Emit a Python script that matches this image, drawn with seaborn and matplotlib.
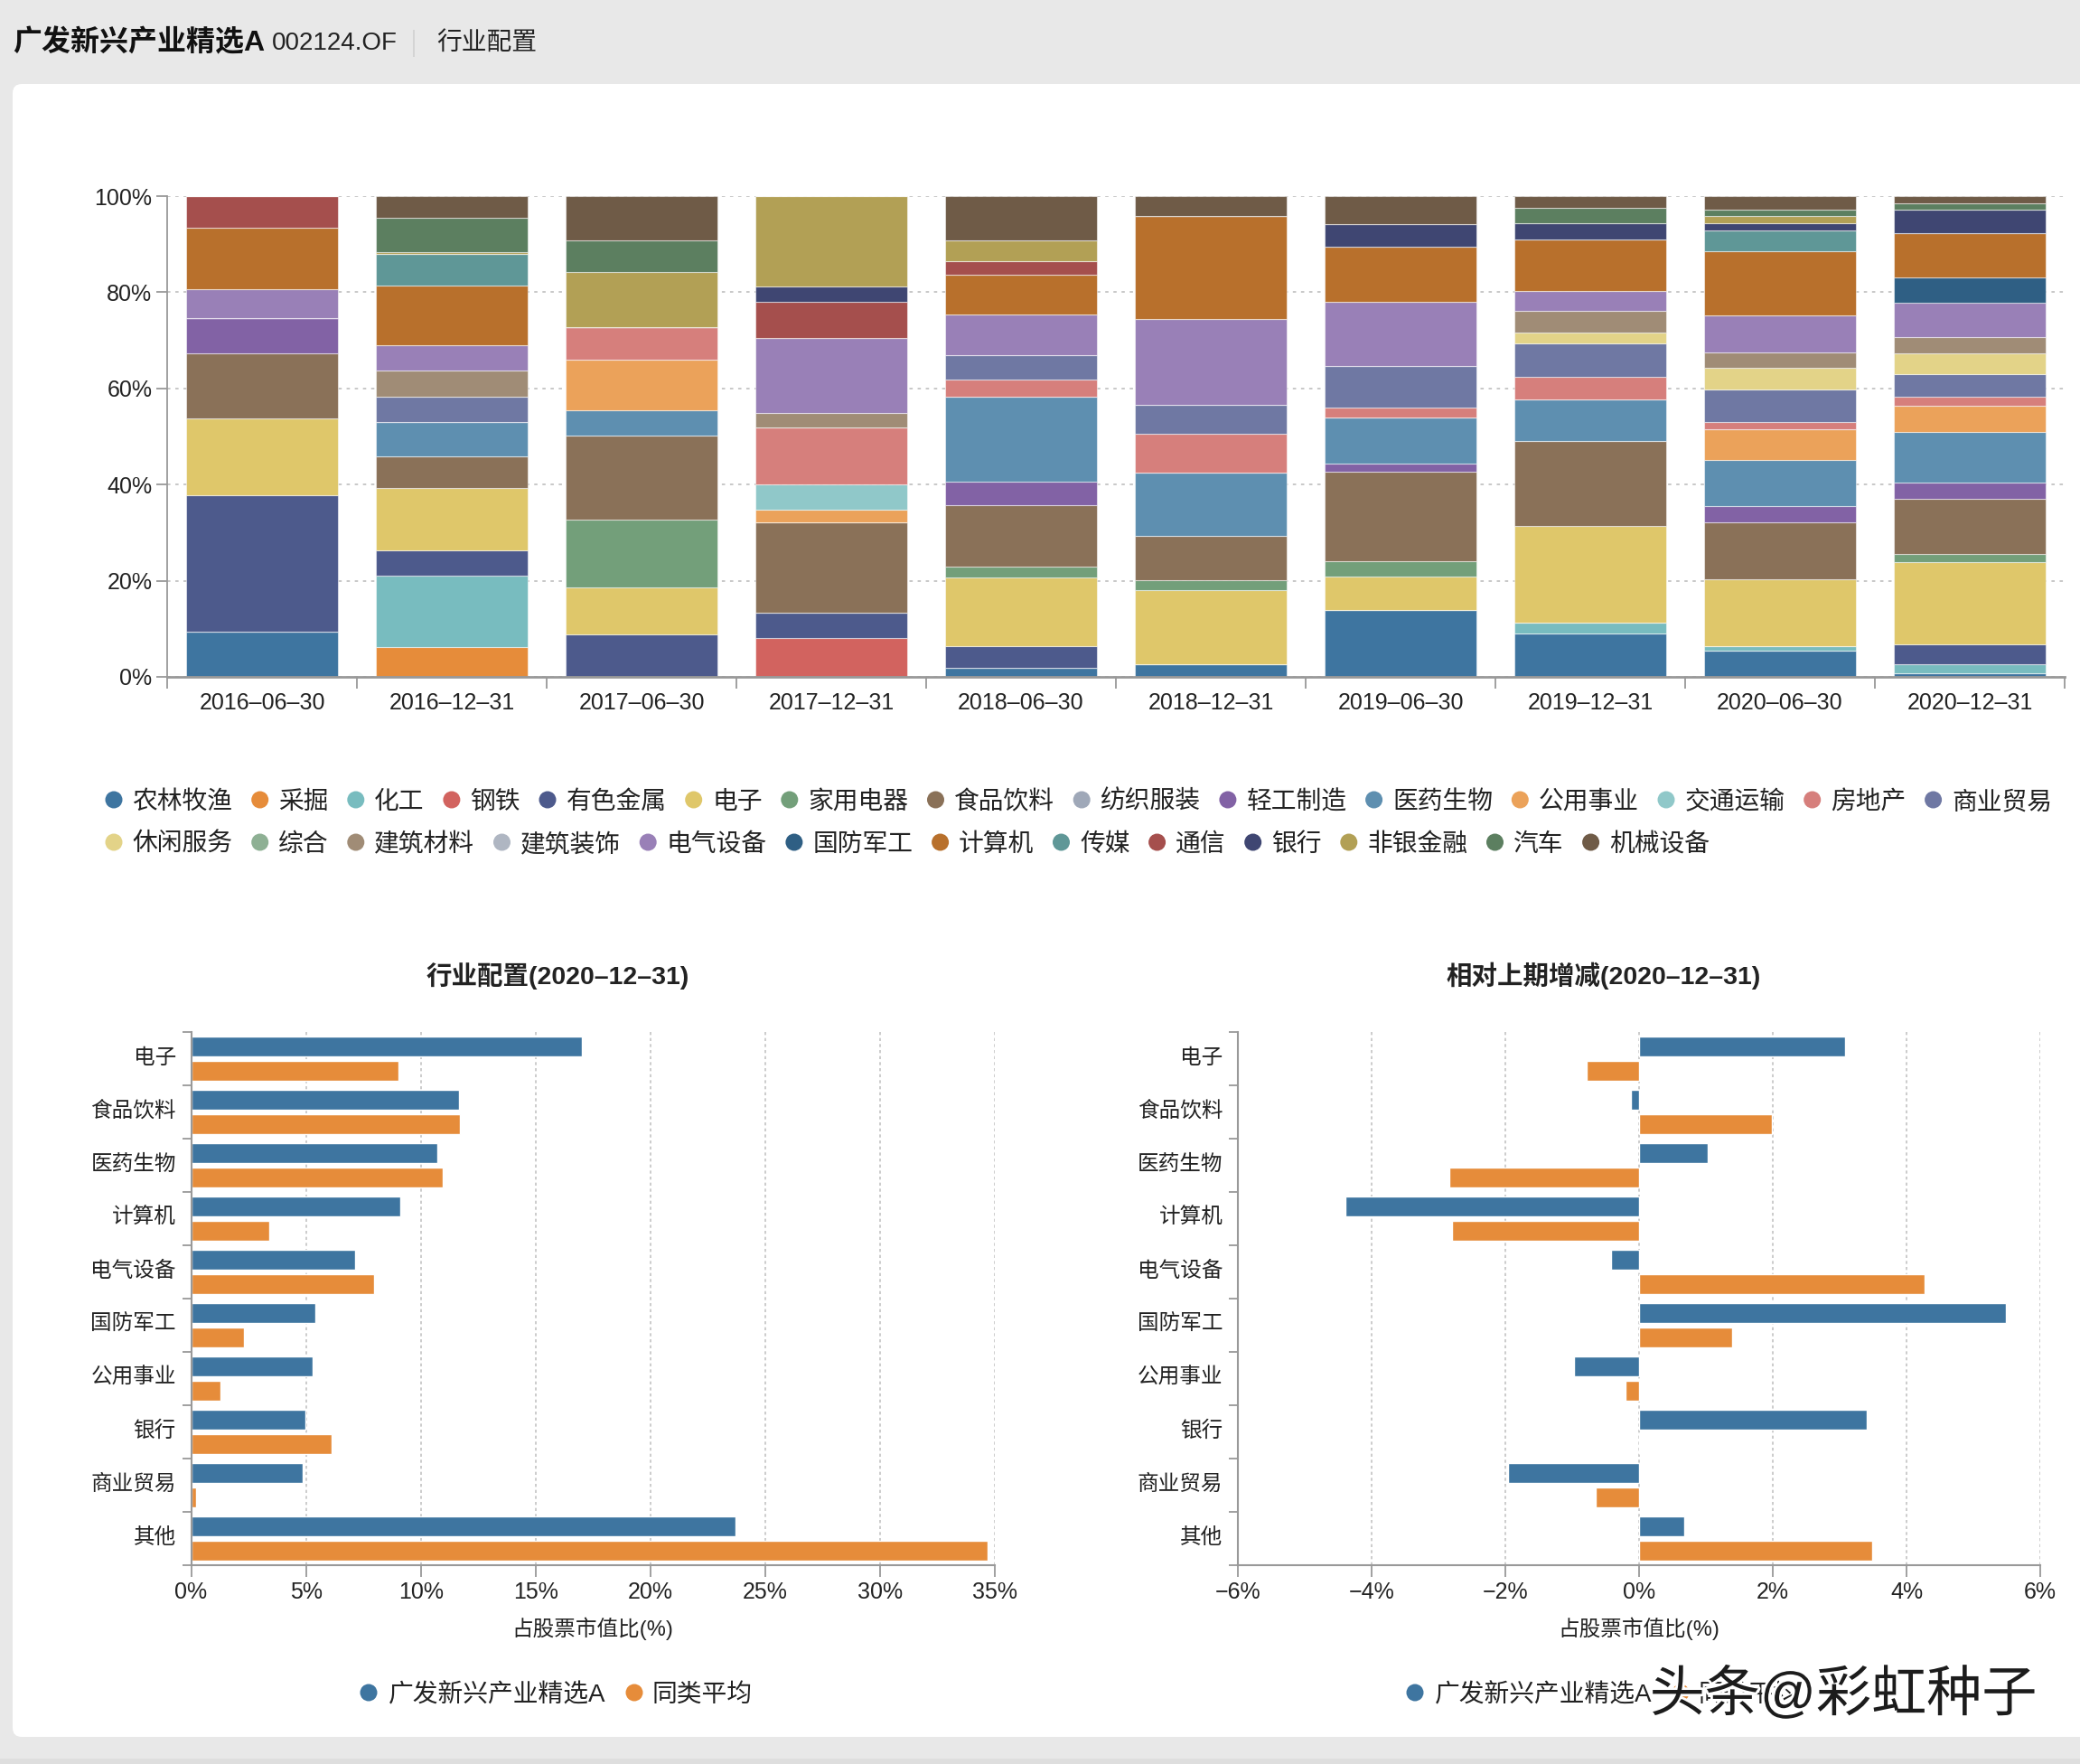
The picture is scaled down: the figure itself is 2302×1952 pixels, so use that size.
import matplotlib
matplotlib.use('Agg')

import matplotlib.pyplot as plt
import matplotlib.patheffects as pe
from matplotlib.patches import Circle, FancyBboxPatch, Rectangle
from matplotlib.transforms import IdentityTransform, ScaledTranslation
import pandas as pd
import seaborn as sns

W, H = 2302, 1952

dates = ["2016–06–30", "2016–12–31", "2017–06–30", "2017–12–31", "2018–06–30",
         "2018–12–31", "2019–06–30", "2019–12–31", "2020–06–30", "2020–12–31"]

industries = ["农林牧渔", "采掘", "化工", "钢铁", "有色金属", "电子", "家用电器", "食品饮料", "纺织服装", "轻工制造",
              "医药生物", "公用事业", "交通运输", "房地产", "商业贸易", "休闲服务", "综合", "建筑材料", "建筑装饰", "电气设备",
              "国防军工", "计算机", "传媒", "通信", "银行", "非银金融", "汽车", "机械设备"]
colors = ["#3e75a0", "#e68c3a", "#78bcbf", "#d2635f", "#4d5a8c", "#dfc76a", "#739f7a", "#8a7158", "#9fa8b8", "#8262a5",
          "#5e8fb0", "#eba25a", "#90c8c9", "#d67f7c", "#6f78a3", "#e3d388", "#8eb094", "#a08c76", "#afb6c2", "#9980b7",
          "#2f5f84", "#b8702c", "#5f9797", "#a54f4d", "#3f4672", "#b2a055", "#5c7f60", "#6f5b47"]

# 每期的行业占比, 从图上读的
bar_2016_06 = [("农林牧渔", 9.35), ("有色金属", 28.35), ("电子", 16.05), ("食品饮料", 13.6), ("轻工制造", 7.2),
               ("电气设备", 6.1), ("计算机", 12.75), ("通信", 6.6)]
bar_2016_12 = [("采掘", 6.25), ("化工", 14.75), ("有色金属", 5.4), ("电子", 12.95), ("食品饮料", 6.55), ("医药生物", 7.1),
               ("商业贸易", 5.25), ("建筑材料", 5.55), ("电气设备", 5.25), ("计算机", 12.3), ("传媒", 6.6), ("非银金融", 0.45),
               ("汽车", 7.1), ("机械设备", 4.5)]
bar_2017_06 = [("有色金属", 8.8), ("电子", 9.9), ("家用电器", 14.0), ("食品饮料", 17.55), ("医药生物", 5.25),
               ("公用事业", 10.4), ("房地产", 6.85), ("非银金融", 11.4), ("汽车", 6.6), ("机械设备", 9.25)]
bar_2017_12 = [("钢铁", 8.1), ("有色金属", 5.25), ("食品饮料", 18.8), ("公用事业", 2.6), ("交通运输", 5.3), ("房地产", 11.9),
               ("建筑材料", 3.0), ("电气设备", 15.6), ("通信", 7.5), ("银行", 3.1), ("非银金融", 18.85)]
bar_2018_06 = [("农林牧渔", 1.95), ("有色金属", 4.5), ("电子", 14.25), ("家用电器", 2.15), ("食品饮料", 12.9),
               ("轻工制造", 4.9), ("医药生物", 17.55), ("房地产", 3.65), ("商业贸易", 5.1), ("电气设备", 8.35),
               ("计算机", 8.35), ("通信", 2.75), ("非银金融", 4.4), ("机械设备", 9.2)]
bar_2018_12 = [("农林牧渔", 2.65), ("电子", 15.45), ("家用电器", 1.95), ("食品饮料", 9.35), ("医药生物", 13.1),
               ("房地产", 8.05), ("商业贸易", 6.05), ("电气设备", 17.75), ("计算机", 21.55), ("机械设备", 4.1)]
bar_2019_06 = [("农林牧渔", 13.9), ("电子", 6.9), ("家用电器", 3.3), ("食品饮料", 18.5), ("轻工制造", 1.85),
               ("医药生物", 9.5), ("房地产", 2.1), ("商业贸易", 8.65), ("电气设备", 13.3), ("计算机", 11.4), ("银行", 4.75),
               ("机械设备", 5.85)]
bar_2019_12 = [("农林牧渔", 9.0), ("化工", 2.3), ("电子", 20.0), ("食品饮料", 17.7), ("医药生物", 8.8), ("房地产", 4.7),
               ("商业贸易", 6.9), ("休闲服务", 2.2), ("建筑材料", 4.45), ("电气设备", 4.25), ("计算机", 10.65), ("银行", 3.45),
               ("汽车", 3.25), ("机械设备", 2.35)]
bar_2020_06 = [("农林牧渔", 5.4), ("化工", 1.0), ("电子", 13.95), ("食品饮料", 11.8), ("轻工制造", 3.4), ("医药生物", 9.55),
               ("公用事业", 6.35), ("房地产", 1.5), ("商业贸易", 6.75), ("休闲服务", 4.55), ("建筑材料", 3.3),
               ("电气设备", 7.55), ("计算机", 13.45), ("传媒", 4.3), ("银行", 1.5), ("非银金融", 1.6), ("汽车", 1.3),
               ("机械设备", 2.75)]
bar_2020_12 = [("农林牧渔", 0.7), ("化工", 1.95), ("有色金属", 4.2), ("电子", 17.05), ("家用电器", 1.6), ("食品饮料", 11.6),
               ("轻工制造", 3.25), ("医药生物", 10.65), ("公用事业", 5.3), ("房地产", 1.95), ("商业贸易", 4.7),
               ("休闲服务", 4.25), ("建筑材料", 3.45), ("电气设备", 7.2), ("国防军工", 5.3), ("计算机", 9.2), ("银行", 4.9),
               ("汽车", 1.2), ("机械设备", 1.55)]
all_bars = [bar_2016_06, bar_2016_12, bar_2017_06, bar_2017_12, bar_2018_06,
            bar_2018_12, bar_2019_06, bar_2019_12, bar_2020_06, bar_2020_12]

# 下面两张小图
top_names = ["电子", "食品饮料", "医药生物", "计算机", "电气设备", "国防军工", "公用事业", "银行", "商业贸易", "其他"]
fund_name = "广发新兴产业精选A"
peer_name = "同类平均"
fund_weight = [17.02, 11.66, 10.73, 9.12, 7.16, 5.42, 5.3, 4.96, 4.85, 23.7]
peer_weight = [9.03, 11.71, 10.96, 3.4, 7.96, 2.3, 1.27, 6.12, 0.23, 34.7]
fund_change = [3.08, -0.12, 1.03, -4.39, -0.42, 5.48, -0.97, 3.41, -1.96, 0.67]
peer_change = [-0.79, 1.98, -2.84, -2.8, 4.27, 1.39, -0.2, 0.0, -0.65, 3.49]

sns.set_theme(style="white")
plt.rcParams['font.family'] = ['Liberation Sans', 'Noto Sans CJK SC']
plt.rcParams['axes.unicode_minus'] = False

AXIS = "#999999"
GRID = "#c4c4c4"
TXT = "#222222"
BLUE, ORANGE = colors[0], colors[1]


def px_axes(x0, y0, x1, y1):
    # 用像素位置放坐标轴 (y 从上往下)
    return fig.add_axes([x0 / W, 1 - y1 / H, (x1 - x0) / W, (y1 - y0) / H], facecolor="none")


def dot(x, y, c):
    fig.add_artist(Circle((x, H - y), 9.5, color=c, lw=0, transform=IdentityTransform()))


def label(x, y, s, size=20, **kw):
    fig.text(x / W, 1 - (y + 3) / H, s, fontsize=size, color=kw.pop("color", TXT), va="center", **kw)


fig = plt.figure(figsize=(W / 100, H / 100), dpi=100, facecolor="#e8e8e8")

# 背景卡片, 放在坐标轴下面
fig.add_artist(FancyBboxPatch((14, H - 1922), W, 1829, boxstyle="round,pad=0,rounding_size=10",
                              fc="white", ec="none", lw=0, zorder=-5, transform=IdentityTransform()))
fig.add_artist(Rectangle((0, 0), W, 6, fc="#dedede", ec="none", zorder=-5, transform=IdentityTransform()))

# 标题栏
label(14, 45, fund_name, size=23, fontweight="bold", color="#111111")
label(301, 45, "002124.OF", size=20)
label(483, 45, "行业配置", size=20)
fig.add_artist(Rectangle((457, H - 63), 1.5, 30, fc="#d4d4d4", ec="none", transform=IdentityTransform()))

# 上面的堆叠柱
rows = []
for i, bar in enumerate(all_bars):
    for name, v in bar:
        rows.append({"date": i, "industry": name, "value": v})
alloc = pd.DataFrame(rows)

ax = px_axes(185, 217, 2285, 749)
sns.histplot(data=alloc, x="date", weights="value", hue="industry", hue_order=industries[::-1],
             palette=dict(zip(industries, colors)), multiple="stack", discrete=True, shrink=0.8,
             alpha=1, edgecolor="#ffffff80", linewidth=0.8, legend=False, ax=ax)
ax.set_xlim(-0.5, len(dates) - 0.5)
ax.set_ylim(0, 100)
ax.set_axisbelow(True)
ax.yaxis.grid(True, color=GRID, linestyle=(0, (2, 3)), linewidth=1.3)
ax.xaxis.grid(False)
ax.set_xticks(range(len(dates)), dates)
ax.set_xticks([i - 0.5 for i in range(len(dates) + 1)], minor=True)
ax.set_yticks(range(0, 101, 20), [f"{v}%" for v in range(0, 101, 20)])
ax.tick_params(axis="x", which="major", length=0, pad=12.5, labelsize=18, labelcolor=TXT)
ax.tick_params(axis="x", which="minor", length=9, width=1.3, color=AXIS, bottom=True)
ax.tick_params(axis="y", length=9, width=1.3, color=AXIS, left=True, labelsize=18, labelcolor=TXT, pad=3)
ax.set_xlabel("")
ax.set_ylabel("")
for side in ["top", "right"]:
    ax.spines[side].set_visible(False)
for side in ["left", "bottom"]:
    ax.spines[side].set_color(AXIS)
ax.spines["left"].set_linewidth(1.3)
ax.spines["bottom"].set_linewidth(2)

# 行业图例, 两行, 按字数往后排
legend_x = 126
legend_y = 885
for i, (name, c) in enumerate(zip(industries, colors)):
    if name == "休闲服务":
        legend_x = 126
        legend_y = 932
    dot(legend_x, legend_y, c)
    label(legend_x + 20.5, legend_y, name)
    legend_x += 20.5 + len(name) * 27.8 + 30


def group_chart(box, fund, peer, title, xlim, xticks, title_x):
    ax = px_axes(*box)
    df = pd.DataFrame({
        "industry": top_names * 2,
        "series": [fund_name] * len(top_names) + [peer_name] * len(top_names),
        "value": list(fund) + list(peer),
    })
    sns.barplot(data=df, y="industry", x="value", hue="series", palette=[BLUE, ORANGE], orient="h",
                width=0.92, gap=0.216, saturation=1, legend=False, ax=ax)
    ax.set_xlim(*xlim)
    ax.set_ylim(len(top_names) - 0.5, -0.5)
    ax.set_axisbelow(True)
    ax.xaxis.grid(True, color=GRID, linestyle=(0, (2, 2)), linewidth=1.2)
    ax.yaxis.grid(False)
    tick_text = [f"−{abs(v)}%" if v < 0 else f"{v}%" for v in xticks]
    ax.set_xticks(xticks, tick_text)
    ax.set_yticks(range(len(top_names)), top_names)
    ax.set_yticks([i - 0.5 for i in range(len(top_names) + 1)], minor=True)
    ax.tick_params(axis="x", length=9, width=1.3, color=AXIS, bottom=True, labelsize=18, labelcolor=TXT, pad=4)
    ax.tick_params(axis="y", which="major", length=0, labelsize=17, labelcolor=TXT, pad=12)
    ax.tick_params(axis="y", which="minor", length=7, width=1.3, color=AXIS, left=True)
    # 类别文字往上提一点
    for t in ax.get_yticklabels():
        t.set_transform(t.get_transform() + ScaledTranslation(0, 0.03, fig.dpi_scale_trans))
    ax.set_xlabel("占股票市值比(%)", fontsize=17, color=TXT, labelpad=11)
    ax.set_ylabel("")
    for side in ["top", "right"]:
        ax.spines[side].set_visible(False)
    for side in ["left", "bottom"]:
        ax.spines[side].set_color(AXIS)
        ax.spines[side].set_linewidth(1.5)
    fig.text(title_x / W, 1 - 1080 / H, title, fontsize=20.5, fontweight="bold", color=TXT, ha="center", va="center")
    return ax


group_chart((211.5, 1142, 1101, 1732), fund_weight, peer_weight, "行业配置(2020–12–31)",
            (0, 35), list(range(0, 36, 5)), 617)
group_chart((1370, 1142, 2258, 1732), fund_change, peer_change, "相对上期增减(2020–12–31)",
            (-6, 6), list(range(-6, 7, 2)), 1775)

# 两张小图的图例
for shift in [0, 1158]:
    dot(408 + shift, 1873, BLUE)
    label(430 + shift, 1873, fund_name)
    dot(702 + shift, 1873, ORANGE)
    label(722 + shift, 1873, peer_name)

# 水印
fig.text(2040 / W, 1 - 1876 / H, "头条@彩虹种子", fontsize=44, color="#1c1c1c", ha="center", va="center",
         path_effects=[pe.withStroke(linewidth=4, foreground="white")], zorder=20)

fig.savefig("out.png", dpi=100, facecolor=fig.get_facecolor())
